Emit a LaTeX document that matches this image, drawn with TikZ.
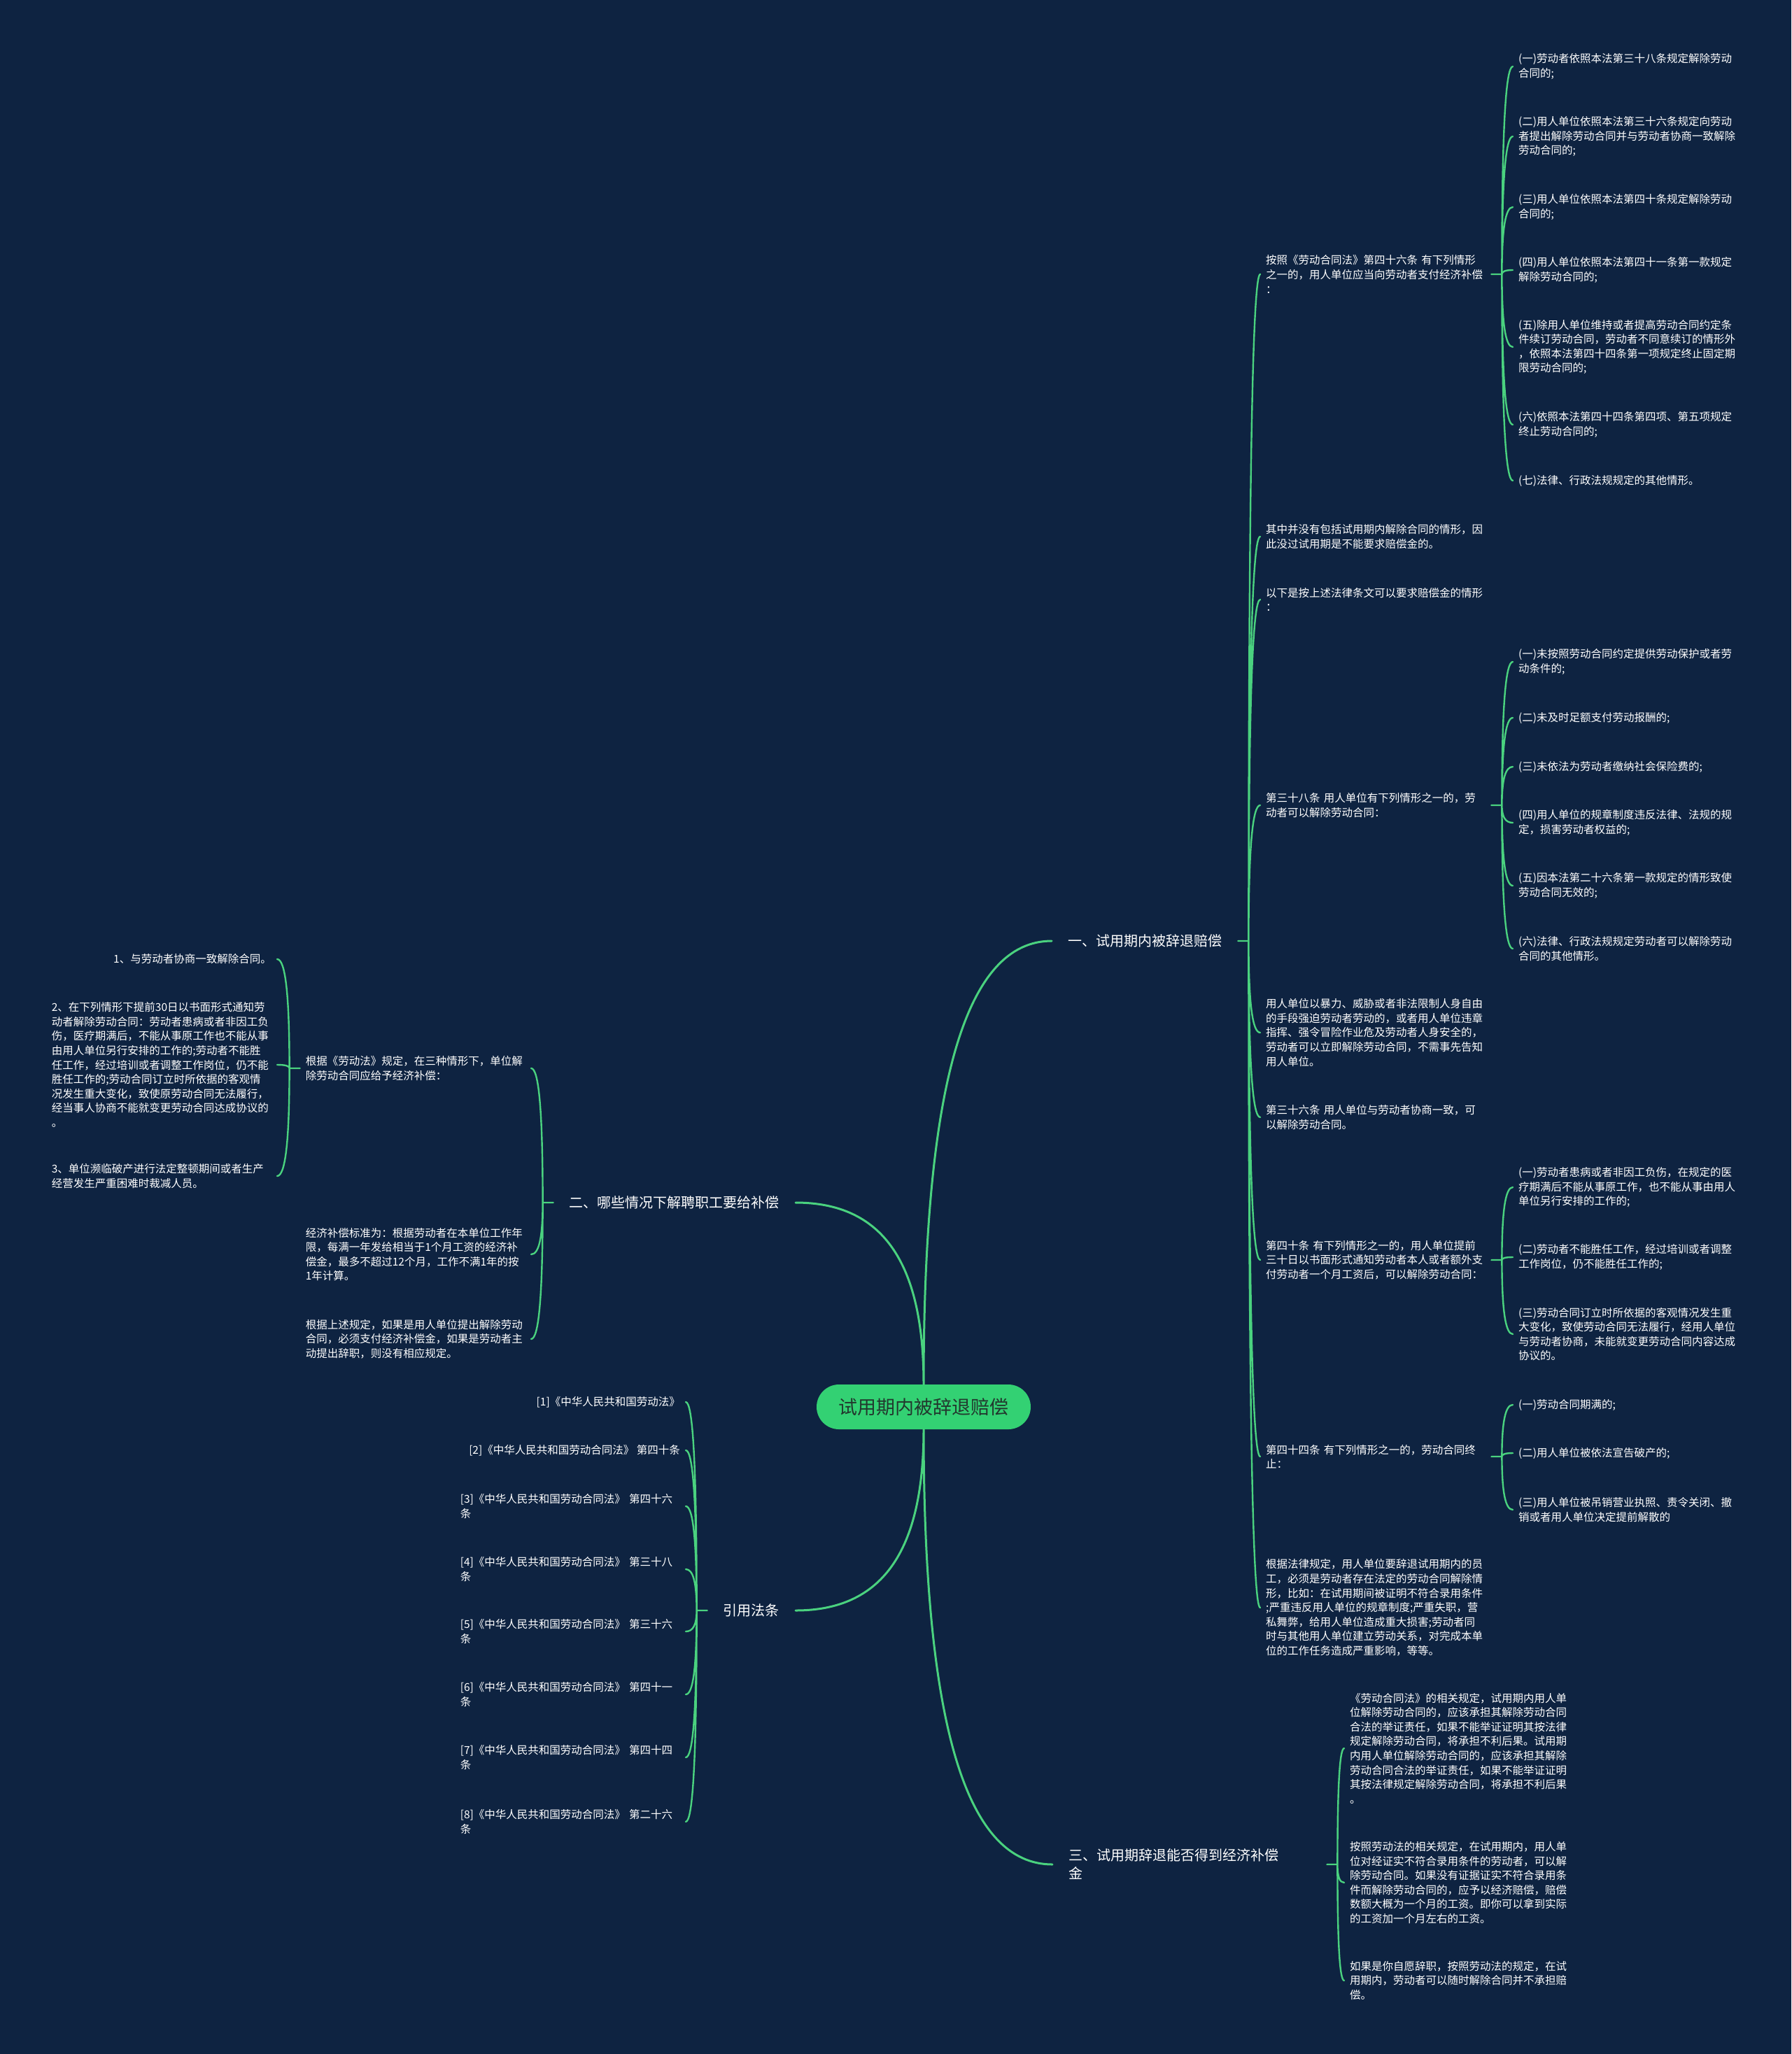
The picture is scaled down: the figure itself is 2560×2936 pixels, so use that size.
\documentclass[tikz,border=0pt]{standalone}
\usepackage{fontspec}
\setmainfont{Noto Sans CJK SC}
\usepackage{tikz}
\usetikzlibrary{calc}
\definecolor{navy}{HTML}{0E2341}
\definecolor{mmgreen}{HTML}{4AD27F}
\definecolor{rootgreen}{HTML}{33D173}
\definecolor{roottext}{HTML}{22382E}
\tikzset{
  every picture/.style={line join=round, line cap=round},
  curve/.style={to path={.. controls ($(\tikztostart)!0.68!(\tikztostart|-\tikztotarget)$) and ($(\tikztostart|-\tikztotarget)!0.33!(\tikztotarget)$) .. (\tikztotarget)}},
  stem/.style={draw=mmgreen, line width=3pt, curve},
  twig/.style={draw=mmgreen, line width=2.4pt, curve},
  rootbox/.style={fill=rootgreen, text=roottext, rounded corners=32pt, minimum width=306pt, minimum height=64pt, font=\fontsize{27}{32}\selectfont},
  topic/.style={text=white, font=\fontsize{20}{26}\selectfont, inner xsep=23pt, inner ysep=2pt, align=left},
  leaf/.style={text=white, font=\fontsize{15.5}{20.6}\selectfont, inner xsep=8pt, inner ysep=2pt, align=left},
  wide/.style={leaf, text width=314pt},
}

\begin{document}
\begin{tikzpicture}[x=1pt,y=-1pt]
\path[use as bounding box,fill=navy](0,0)rectangle(2560,2936);
\node[rootbox](root)at(1320,2011){试用期内被辞退赔偿};
\node[topic,anchor=west](t1)at(1503,1345){一、试用期内被辞退赔偿};
\node[topic,anchor=east](t2)at(1137,1719){二、哪些情况下解聘职工要给补偿};
\node[topic,anchor=east](t3)at(1137,2302){引用法条};
\node[topic,anchor=west,text width=346pt](t4)at(1504,2665){三、试用期辞退能否得到经济补偿\\金};

\node[wide,anchor=west](t1a)at(1801,392){按照《劳动合同法》第四十六条 有下列情形\\之一的，用人单位应当向劳动者支付经济补偿\\：};
\node[wide,anchor=west](t1b)at(1801,767){其中并没有包括试用期内解除合同的情形，因\\此没过试用期是不能要求赔偿金的。};
\node[wide,anchor=west](t1c)at(1801,857){以下是按上述法律条文可以要求赔偿金的情形\\：};
\node[wide,anchor=west](t1d)at(1801,1151){第三十八条 用人单位有下列情形之一的，劳\\动者可以解除劳动合同：};
\node[wide,anchor=west](t1e)at(1801,1476){用人单位以暴力、威胁或者非法限制人身自由\\的手段强迫劳动者劳动的，或者用人单位违章\\指挥、强令冒险作业危及劳动者人身安全的，\\劳动者可以立即解除劳动合同，不需事先告知\\用人单位。};
\node[wide,anchor=west](t1f)at(1801,1597){第三十六条 用人单位与劳动者协商一致，可\\以解除劳动合同。};
\node[wide,anchor=west](t1g)at(1801,1801){第四十条 有下列情形之一的，用人单位提前\\三十日以书面形式通知劳动者本人或者额外支\\付劳动者一个月工资后，可以解除劳动合同：};
\node[wide,anchor=west](t1h)at(1801,2082){第四十四条 有下列情形之一的，劳动合同终\\止：};
\node[wide,anchor=west](t1i)at(1801,2298){根据法律规定，用人单位要辞退试用期内的员\\工，必须是劳动者存在法定的劳动合同解除情\\形，比如：在试用期间被证明不符合录用条件\\;严重违反用人单位的规章制度;严重失职，营\\私舞弊，给用人单位造成重大损害;劳动者同\\时与其他用人单位建立劳动关系，对完成本单\\位的工作任务造成严重影响，等等。};

\node[leaf,anchor=west](a1)at(2162,95){(一)劳动者依照本法第三十八条规定解除劳动\\合同的;};
\node[leaf,anchor=west](a2)at(2162,195){(二)用人单位依照本法第三十六条规定向劳动\\者提出解除劳动合同并与劳动者协商一致解除\\劳动合同的;};
\node[leaf,anchor=west](a3)at(2162,296){(三)用人单位依照本法第四十条规定解除劳动\\合同的;};
\node[leaf,anchor=west](a4)at(2162,386){(四)用人单位依照本法第四十一条第一款规定\\解除劳动合同的;};
\node[leaf,anchor=west](a5)at(2162,496){(五)除用人单位维持或者提高劳动合同约定条\\件续订劳动合同，劳动者不同意续订的情形外\\，依照本法第四十四条第一项规定终止固定期\\限劳动合同的;};
\node[leaf,anchor=west](a6)at(2162,607){(六)依照本法第四十四条第四项、第五项规定\\终止劳动合同的;};
\node[leaf,anchor=west](a7)at(2162,687){(七)法律、行政法规规定的其他情形。};

\node[leaf,anchor=west](d1)at(2162,946){(一)未按照劳动合同约定提供劳动保护或者劳\\动条件的;};
\node[leaf,anchor=west](d2)at(2162,1026){(二)未及时足额支付劳动报酬的;};
\node[leaf,anchor=west](d3)at(2162,1096){(三)未依法为劳动者缴纳社会保险费的;};
\node[leaf,anchor=west](d4)at(2162,1176){(四)用人单位的规章制度违反法律、法规的规\\定，损害劳动者权益的;};
\node[leaf,anchor=west](d5)at(2162,1266){(五)因本法第二十六条第一款规定的情形致使\\劳动合同无效的;};
\node[leaf,anchor=west](d6)at(2162,1356){(六)法律、行政法规规定劳动者可以解除劳动\\合同的其他情形。};

\node[leaf,anchor=west](g1)at(2162,1697){(一)劳动者患病或者非因工负伤，在规定的医\\疗期满后不能从事原工作，也不能从事由用人\\单位另行安排的工作的;};
\node[leaf,anchor=west](g2)at(2162,1797){(二)劳动者不能胜任工作，经过培训或者调整\\工作岗位，仍不能胜任工作的;};
\node[leaf,anchor=west](g3)at(2162,1907){(三)劳动合同订立时所依据的客观情况发生重\\大变化，致使劳动合同无法履行，经用人单位\\与劳动者协商，未能就变更劳动合同内容达成\\协议的。};

\node[leaf,anchor=west](h1)at(2162,2008){(一)劳动合同期满的;};
\node[leaf,anchor=west](h2)at(2162,2077){(二)用人单位被依法宣告破产的;};
\node[leaf,anchor=west](h3)at(2162,2158){(三)用人单位被吊销营业执照、责令关闭、撤\\销或者用人单位决定提前解散的};

\node[wide,anchor=east](t2a)at(759,1527){根据《劳动法》规定，在三种情形下，单位解\\除劳动合同应给予经济补偿：};
\node[wide,anchor=east](t2b)at(759,1793){经济补偿标准为：根据劳动者在本单位工作年\\限，每满一年发给相当于1个月工资的经济补\\偿金，最多不超过12个月，工作不满1年的按\\1年计算。};
\node[wide,anchor=east](t2c)at(759,1914){根据上述规定，如果是用人单位提出解除劳动\\合同，必须支付经济补偿金，如果是劳动者主\\动提出辞职，则没有相应规定。};
\node[leaf,anchor=east](s1)at(396,1371){1、与劳动者协商一致解除合同。};
\node[wide,anchor=east](s2)at(396,1522){2、在下列情形下提前30日以书面形式通知劳\\动者解除劳动合同：劳动者患病或者非因工负\\伤，医疗期满后，不能从事原工作也不能从事\\由用人单位另行安排的工作的;劳动者不能胜\\任工作，经过培训或者调整工作岗位，仍不能\\胜任工作的;劳动合同订立时所依据的客观情\\况发生重大变化，致使原劳动合同无法履行，\\经当事人协商不能就变更劳动合同达成协议的\\。};
\node[wide,anchor=east](s3)at(396,1681){3、单位濒临破产进行法定整顿期间或者生产\\经营发生严重困难时裁减人员。};

\node[leaf,anchor=east](c1)at(980,2004){[1]《中华人民共和国劳动法》};
\node[leaf,anchor=east](c2)at(980,2073){[2]《中华人民共和国劳动合同法》 第四十条};
\node[wide,anchor=east](c3)at(980,2153){[3]《中华人民共和国劳动合同法》 第四十六\\条};
\node[wide,anchor=east](c4)at(980,2243){[4]《中华人民共和国劳动合同法》 第三十八\\条};
\node[wide,anchor=east](c5)at(980,2332){[5]《中华人民共和国劳动合同法》 第三十六\\条};
\node[wide,anchor=east](c6)at(980,2422){[6]《中华人民共和国劳动合同法》 第四十一\\条};
\node[wide,anchor=east](c7)at(980,2512){[7]《中华人民共和国劳动合同法》 第四十四\\条};
\node[wide,anchor=east](c8)at(980,2604){[8]《中华人民共和国劳动合同法》 第二十六\\条};

\node[wide,anchor=west](t4a)at(1921,2499){《劳动合同法》的相关规定，试用期内用人单\\位解除劳动合同的，应该承担其解除劳动合同\\合法的举证责任，如果不能举证证明其按法律\\规定解除劳动合同，将承担不利后果。试用期\\内用人单位解除劳动合同的，应该承担其解除\\劳动合同合法的举证责任，如果不能举证证明\\其按法律规定解除劳动合同，将承担不利后果\\。};
\node[wide,anchor=west](t4b)at(1921,2691){按照劳动法的相关规定，在试用期内，用人单\\位对经证实不符合录用条件的劳动者，可以解\\除劳动合同。如果没有证据证实不符合录用条\\件而解除劳动合同的，应予以经济赔偿，赔偿\\数额大概为一个月的工资。即你可以拿到实际\\的工资加一个月左右的工资。};
\node[wide,anchor=west](t4c)at(1921,2831){如果是你自愿辞职，按照劳动法的规定，在试\\用期内，劳动者可以随时解除合同并不承担赔\\偿。};

\coordinate(t1s)at([xshift=15pt]t1.east);
\coordinate(t2s)at([xshift=-15pt]t2.west);
\coordinate(t3s)at([xshift=-15pt]t3.west);
\coordinate(t4s)at([xshift=15pt]t4.east);
\coordinate(t1as)at([xshift=15pt]t1a.east);
\coordinate(t1ds)at([xshift=15pt]t1d.east);
\coordinate(t1gs)at([xshift=15pt]t1g.east);
\coordinate(t1hs)at([xshift=15pt]t1h.east);
\coordinate(t2as)at([xshift=-15pt]t2a.west);

\draw[stem](root.north)to(t1.west) (root.north)to(t2.east) (root.south)to(t3.east) (root.south)to(t4.west);
\draw[twig](t1.east)--(t1s) (t1s)to(t1a.west) (t1s)to(t1b.west) (t1s)to(t1c.west) (t1s)to(t1d.west) (t1s)to(t1e.west) (t1s)to(t1f.west) (t1s)to(t1g.west) (t1s)to(t1h.west) (t1s)to(t1i.west);
\draw[twig](t1a.east)--(t1as) (t1as)to(a1.west) (t1as)to(a2.west) (t1as)to(a3.west) (t1as)to(a4.west) (t1as)to(a5.west) (t1as)to(a6.west) (t1as)to(a7.west);
\draw[twig](t1d.east)--(t1ds) (t1ds)to(d1.west) (t1ds)to(d2.west) (t1ds)to(d3.west) (t1ds)to(d4.west) (t1ds)to(d5.west) (t1ds)to(d6.west);
\draw[twig](t1g.east)--(t1gs) (t1gs)to(g1.west) (t1gs)to(g2.west) (t1gs)to(g3.west);
\draw[twig](t1h.east)--(t1hs) (t1hs)to(h1.west) (t1hs)to(h2.west) (t1hs)to(h3.west);
\draw[twig](t2.west)--(t2s) (t2s)to(t2a.east) (t2s)to(t2b.east) (t2s)to(t2c.east);
\draw[twig](t2a.west)--(t2as) (t2as)to(s1.east) (t2as)to(s2.east) (t2as)to(s3.east);
\draw[twig](t3.west)--(t3s) (t3s)to(c1.east) (t3s)to(c2.east) (t3s)to(c3.east) (t3s)to(c4.east) (t3s)to(c5.east) (t3s)to(c6.east) (t3s)to(c7.east) (t3s)to(c8.east);
\draw[twig](t4.east)--(t4s) (t4s)to(t4a.west) (t4s)to(t4b.west) (t4s)to(t4c.west);
\end{tikzpicture}
\end{document}
